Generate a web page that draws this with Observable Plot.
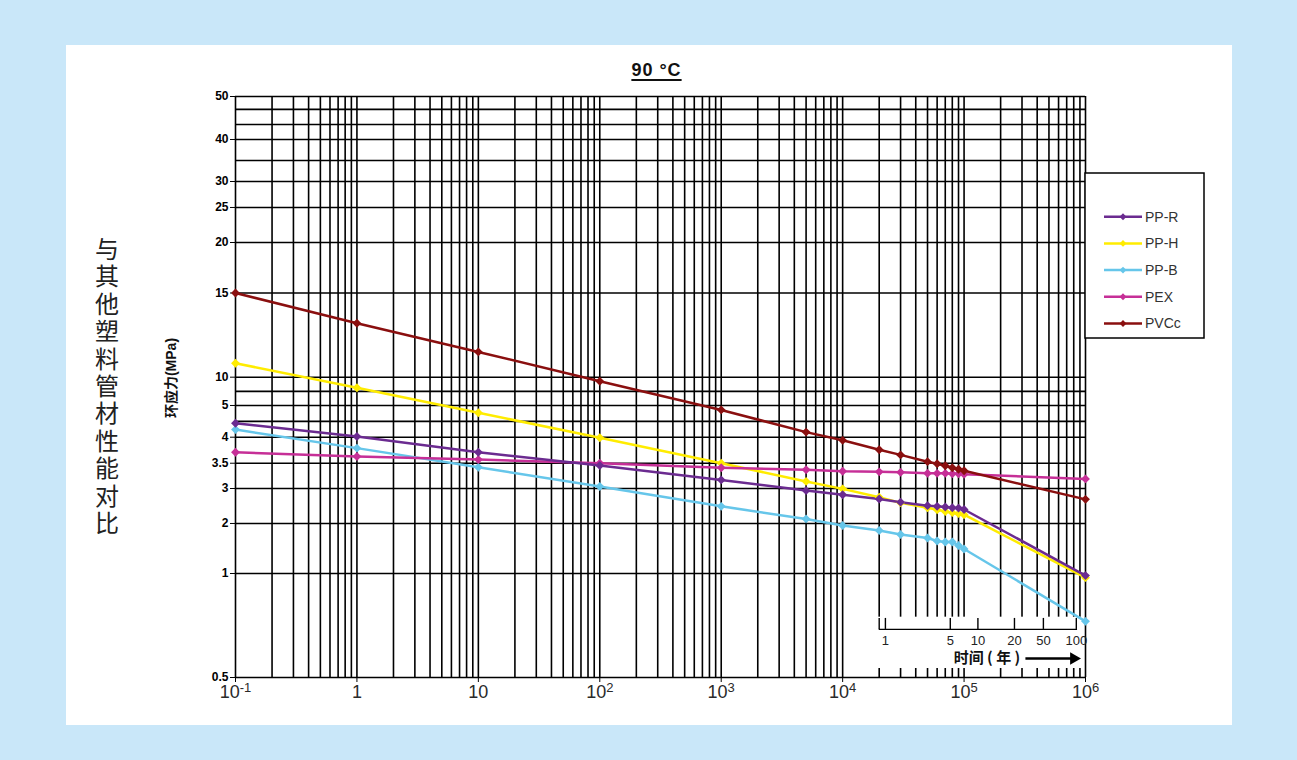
<!DOCTYPE html>
<html><head><meta charset="utf-8">
<script src="https://cdn.jsdelivr.net/npm/d3@7"></script>
<script src="https://cdn.jsdelivr.net/npm/@observablehq/plot@0.6"></script>
<style>
html,body{margin:0;padding:0;}
body{width:1297px;height:760px;background:#c9e7f9;position:relative;overflow:hidden;font-family:"Liberation Sans",Arial,sans-serif;}
#panel{position:absolute;left:66px;top:45px;width:1166px;height:680px;background:#fff;}
#chart{position:absolute;left:0;top:0;}
#title{position:absolute;left:520px;width:141px;top:15px;text-align:center;font-weight:bold;font-size:18px;letter-spacing:1px;line-height:20px;text-decoration:underline;text-decoration-thickness:2px;text-underline-offset:3px;color:#111;}
#side{position:absolute;left:29px;top:189px;width:26px;font-family:"Noto Sans CJK SC",sans-serif;font-size:24px;line-height:27.4px;color:#222;word-break:break-all;}
#ylab{position:absolute;left:104px;top:333px;transform:translate(-50%,-50%) rotate(-90deg);white-space:nowrap;font-weight:bold;font-size:14px;font-family:"Liberation Sans","Noto Sans CJK SC",sans-serif;color:#111;}
#legend{position:absolute;left:1018px;top:127px;}
</style>
</head>
<body>
<div id="panel">
  <div id="chart"></div>
  <div id="title">90 °C</div>
  <div id="side">与其他塑料管材性能对比</div>
  <div id="ylab">环应力(MPa)</div>
  <div id="legend"></div>
</div>
<script>
// ---- data ----
const series = ["PP-R", "PP-H", "PP-B", "PEX", "PVCc"];
const colors = ["#6b2b90", "#ffec00", "#66c6ea", "#c62f97", "#8a0f0f"];
const drawOrder = ["PP-H", "PP-B", "PEX", "PP-R", "PVCc"];
const times = [0.1, 1, 10, 100, 1000, 5000, 1e4, 2e4, 3e4, 5e4, 6e4, 7e4, 8e4, 9e4, 1e5, 1e6];
const ppR  = [4.44, 4.02, 3.71, 3.455, 3.17, 2.94, 2.82, 2.70, 2.61, 2.51, 2.49, 2.47, 2.45, 2.44, 2.40, 0.99];
const ppH  = [10.83, 8.13, 4.77, 3.99, 3.50, 3.14, 2.99, 2.75, 2.59, 2.45, 2.39, 2.34, 2.31, 2.28, 2.25, 0.98];
const ppB  = [4.24, 3.79, 3.42, 3.04, 2.49, 2.13, 1.96, 1.86, 1.78, 1.71, 1.65, 1.63, 1.63, 1.56, 1.49, 0.77];
const pex  = [3.71, 3.63, 3.57, 3.50, 3.41, 3.37, 3.34, 3.33, 3.32, 3.30, 3.30, 3.30, 3.29, 3.29, 3.28, 3.19];
const pvcc = [15.0, 13.2, 11.5, 9.29, 4.86, 4.16, 3.94, 3.76, 3.66, 3.53, 3.49, 3.45, 3.41, 3.38, 3.35, 2.69];
const seriesValues = {"PP-R": ppR, "PP-H": ppH, "PP-B": ppB, "PEX": pex, "PVCc": pvcc};

// y axis labels (as printed) and unlabeled grid lines
const yTicks = [0.5, 1, 2, 3, 3.5, 4, 5, 10, 15, 20, 25, 30, 40, 50];
const yExtraGrid = [4.5, 7.5, 35, 43.5, 47];
const xDecades = [0.1, 1, 10, 100, 1000, 1e4, 1e5, 1e6];
const xTickText = ["10^-1", "1", "10", "10^2", "10^3", "10^4", "10^5", "10^6"];

// inset "时间（年）" axis
const insetYearLabels = ["1", "5", "10", "20", "50", "100"];
const insetYearHours = [22500, 77000, 130000, 260000, 450000, 840000];

// ---- layout ----
const W = 1166, H = 680, mL = 169, mR = 147, mT = 51, mB = 48;
const plotH = H - mT - mB;
// relative vertical position of each printed y label within the plot frame (top = 0)
const yTickFrac = [1, 0.821, 0.7349, 0.6747, 0.6312, 0.5864, 0.5318, 0.4831, 0.3382, 0.2513, 0.1910, 0.1463, 0.0740, 0];
const yRange = yTickFrac.map(f => mT + f * plotH);

const rows = [];
drawOrder.forEach(s => seriesValues[s].forEach((v, j) => rows.push({series: s, t: times[j], v})));

const xGrid = [];
for (let e = -1; e < 6; e++) for (let k = 1; k < 10; k++) xGrid.push(k * Math.pow(10, e));
xGrid.push(1e6);

const insetTicks = insetYearLabels.map((l, i) => ({label: l, hours: insetYearHours[i]}));
const insetBox = [{x1: 1.9e4, x2: 9.5e5, y1: 0.5, y2: 0.79}];
const insetAxis = {y: 0.731, top: 0.784, x1: 2e4, x2: 8.6e5};
const insetTitle = [{x: 2.9e5, y: 0.591, text: "时间 ( 年 )"}];
const insetArrow = [{x1: 3.2e5, x2: 7.6e5, y: 0.591, tip: 8.0e5}];

const chart = Plot.plot({
  width: W, height: H,
  marginLeft: mL, marginRight: mR, marginTop: mT, marginBottom: mB,
  style: {fontFamily: "'Liberation Sans', Arial, sans-serif", background: "transparent", color: "#000", overflow: "visible"},
  x: {type: "log", domain: [0.1, 1e6]},
  y: {type: "linear", domain: yTicks, range: yRange},
  color: {domain: series, range: colors},
  marks: [
    Plot.ruleX(xGrid, {stroke: "#000", strokeWidth: 1.6}),
    Plot.ruleY([...yTicks, ...yExtraGrid], {stroke: "#000", strokeWidth: 1.6}),
    Plot.rect(insetBox, {x1: "x1", x2: "x2", y1: "y1", y2: "y2", fill: "#fff", insetBottom: 9}),
    Plot.ruleY([insetAxis.y], {x1: insetAxis.x1, x2: insetAxis.x2, stroke: "#000", strokeWidth: 1.2}),
    Plot.ruleX(insetTicks, {x: "hours", y1: insetAxis.y, y2: insetAxis.top, stroke: "#000", strokeWidth: 1.4}),
    Plot.ruleX([insetAxis.x1], {y1: insetAxis.y, y2: insetAxis.top, stroke: "#000", strokeWidth: 1.4}),
    Plot.text(insetTicks, {x: "hours", y: insetAxis.y, text: "label", dy: 11, fontSize: 13, fill: "#222"}),
    Plot.text(insetTitle, {x: "x", y: "y", text: "text", textAnchor: "end", fontSize: 15, fontWeight: "bold", fontFamily: "'Noto Sans CJK SC', sans-serif", fill: "#111"}),
    Plot.link(insetArrow, {x1: "x1", x2: "x2", y1: "y", y2: "y", stroke: "#000", strokeWidth: 2.4}),
    Plot.dot(insetArrow, {x: "tip", y: "y", symbol: "triangle2", r: 6, rotate: 90, fill: "#000"}),
    Plot.axisX({ticks: xDecades, tickFormat: d => xTickText[xDecades.indexOf(d)], tickSize: 5, tickPadding: 3, fontSize: 18, fill: "#2a2a2a"}),
    Plot.axisY({ticks: yTicks, tickFormat: d => String(d), tickSize: 5, tickPadding: 2, fontSize: 12, fontWeight: "bold", fill: "#000"}),
    Plot.line(rows, {x: "t", y: "v", z: "series", stroke: "series", strokeWidth: 2.5}),
    Plot.dot(rows, {x: "t", y: "v", fill: "series", symbol: "diamond2", r: 4})
  ]
});
document.getElementById("chart").appendChild(chart);

// superscripts on the x tick labels
d3.select(chart).selectAll('g[aria-label="x-axis tick label"] text').each(function () {
  const t = this.textContent;
  if (t && t.includes("^")) {
    const [b, e] = t.split("^");
    const sel = d3.select(this);
    sel.text(null);
    sel.append("tspan").text(b);
    sel.append("tspan").attr("dy", "-0.5em").attr("font-size", 13).text(e);
  }
});

// legend
const lg = d3.select("#legend").append("svg").attr("width", 124).attr("height", 170);
lg.append("rect").attr("x", 1).attr("y", 1).attr("width", 119).attr("height", 165)
  .attr("fill", "#fff").attr("stroke", "#000").attr("stroke-width", 1.5);
series.forEach((s, i) => {
  const y = 44.7 + i * 26.7;
  const g = lg.append("g");
  g.append("line").attr("x1", 20).attr("x2", 58).attr("y1", y).attr("y2", y)
    .attr("stroke", colors[i]).attr("stroke-width", 2.5);
  g.append("path").attr("d", d3.symbol(d3.symbolDiamond2, 30)()).attr("transform", `translate(39,${y})`).attr("fill", colors[i]);
  g.append("text").attr("x", 61).attr("y", y).attr("dy", "0.35em").attr("font-size", 14)
    .attr("font-family", "'Liberation Sans', Arial, sans-serif").attr("fill", "#333").text(s);
});
</script>
</body></html>
